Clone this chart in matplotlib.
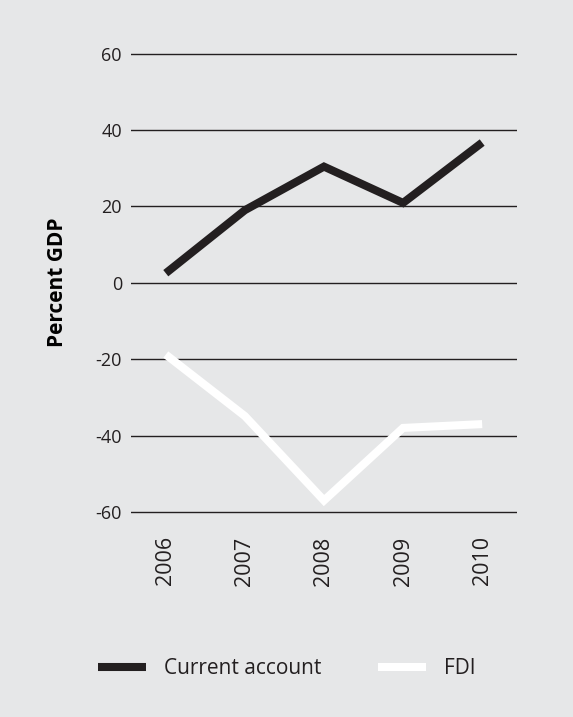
import matplotlib.pyplot as plt

years = [2006, 2007, 2008, 2009, 2010]
current_account = [2.5, 19.0, 30.4, 20.9, 36.7]
fdi = [-18.8, -34.9, -57.0, -38.0, -37.0]
y_ticks = [-60, -40, -20, 0, 20, 40, 60]

bg = '#e6e7e8'
ink = '#231f20'

plt.rcParams['font.family'] = ['Open Sans', 'DejaVu Sans']

fig = plt.figure(figsize=(5.73, 7.17), dpi=100, facecolor=bg)
ax = fig.add_axes([0.2286, 0.2753, 0.6736, 0.6607])
ax.set_facecolor(bg)

for t in y_ticks:
    ax.axhline(t, color=ink, lw=1.0, zorder=1)

ax.plot(years, current_account, color=ink, lw=5.8, solid_capstyle='butt',
        solid_joinstyle='miter', label='Current account', zorder=3)
ax.plot(years, fdi, color='white', lw=5.8, solid_capstyle='butt',
        solid_joinstyle='miter', label='FDI', zorder=3)

ax.set_xlim(2006 - 0.44, 2010 + 0.44)
ax.set_ylim(-62, 62)
ax.set_yticks(y_ticks)
ax.set_yticklabels([str(t) for t in y_ticks], fontsize=13, color=ink)
ax.set_xticks(years)
ax.set_xticklabels([str(y) for y in years], rotation=90, fontsize=15.5, color=ink)
ax.tick_params(axis='y', length=0, pad=6.5)
ax.tick_params(axis='x', length=0, pad=12)
for s in ax.spines.values():
    s.set_visible(False)

fig.text(57.5 / 573, 1 - 282.5 / 717, 'Percent GDP', rotation=90, ha='center', va='center',
         fontsize=15, fontweight='bold', color='black')

fig.legend(loc='center left', bbox_to_anchor=(98 / 573, 1 - 669 / 717), ncol=2,
           frameon=False, fontsize=15, handlelength=2.3, handletextpad=0.85,
           columnspacing=2.75, borderpad=0, borderaxespad=0, labelcolor=ink)

fig.savefig('out.png', dpi=100, facecolor=bg)
